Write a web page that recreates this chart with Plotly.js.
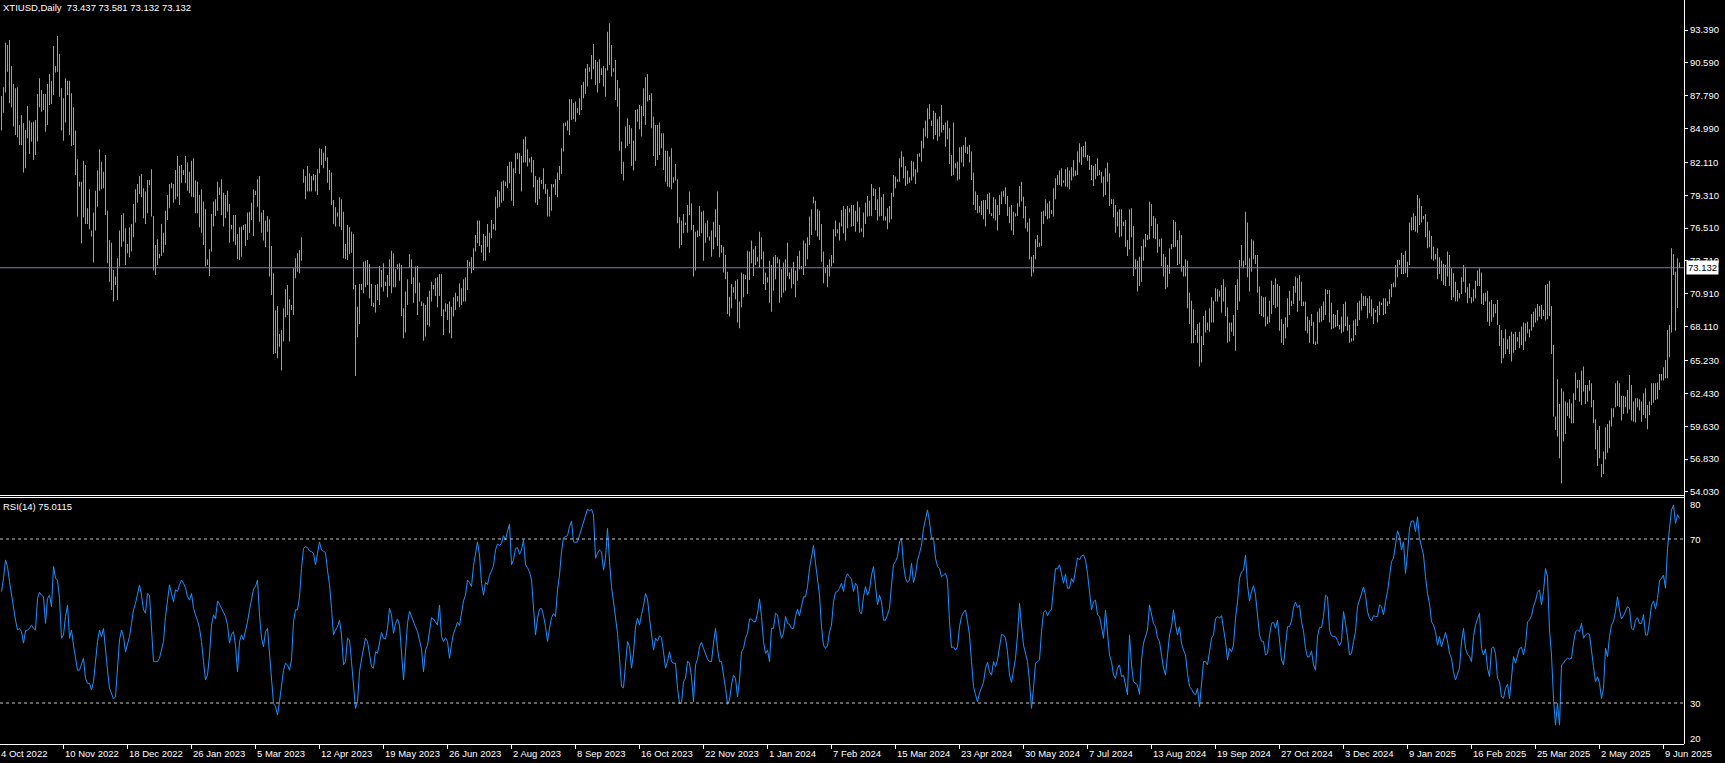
<!DOCTYPE html>
<html><head><meta charset="utf-8">
<script src="https://cdn.plot.ly/plotly-3.0.1.min.js"></script>
<style>html,body{margin:0;padding:0;background:#000;overflow:hidden}#chart{width:1725px;height:763px}</style>
</head><body><div id="chart"></div>
<script>
const symbolTitle = "XTIUSD,Daily";
const lastOHLC = [73.437, 73.581, 73.132, 73.132];
const lastClose = 73.132;
const rsiTitle = "RSI(14)";
const rsiLast = 75.0115;

const barHigh = [87.77,88.51,92.31,92.11,92.54,90.32,88.79,88.42,88.51,85.30,
86.15,85.44,84.87,86.92,85.67,85.50,85.58,85.73,87.94,89.27,
88.28,87.94,87.94,88.79,89.64,89.07,92.03,90.32,92.88,91.35,
88.42,87.57,89.27,89.07,89.07,88.00,86.80,84.82,82.37,80.47,
80.47,82.26,81.89,78.20,79.82,76.30,77.83,79.70,81.41,83.22,
82.17,81.32,82.74,78.00,75.50,75.27,72.95,72.38,73.94,76.30,
77.63,77.77,76.50,75.16,76.58,76.86,78.57,79.82,80.27,80.95,
81.12,79.90,79.62,80.61,80.61,81.52,77.54,75.07,75.56,74.31,
76.86,76.12,78.00,79.33,80.27,80.38,80.27,81.47,82.66,81.80,
81.89,81.47,82.66,82.09,81.32,82.26,82.46,80.56,80.47,79.33,
79.82,78.77,78.11,73.85,74.70,77.71,78.77,78.97,80.47,79.99,
80.67,79.53,79.33,79.70,78.57,76.78,77.63,77.63,76.01,76.58,
76.64,76.78,76.86,77.83,77.91,78.68,79.82,79.70,80.67,80.95,
77.83,78.06,77.15,77.54,77.26,74.99,72.66,69.48,69.88,67.49,
67.83,69.68,71.30,71.67,70.45,69.96,73.09,73.94,74.37,74.65,
75.73,81.52,80.95,81.80,81.18,80.95,81.12,81.04,81.52,83.31,
83.22,82.94,83.51,82.54,81.47,81.24,78.91,78.28,77.83,79.13,
78.97,77.91,75.16,76.78,76.58,76.21,76.01,71.67,69.82,71.75,
71.75,73.65,73.74,73.80,73.46,71.75,70.16,71.67,71.75,73.28,
72.95,73.51,71.95,72.52,73.85,74.59,74.37,73.00,73.46,73.51,
73.37,69.68,71.10,72.15,74.31,73.85,72.32,73.23,73.28,71.87,
70.25,70.11,69.96,70.67,71.18,71.95,71.67,72.23,72.32,72.60,
72.60,69.59,70.11,70.05,70.25,69.82,70.62,71.01,70.73,71.81,
71.38,72.15,72.32,73.80,73.65,74.02,74.79,75.93,77.15,77.15,
75.07,76.01,75.84,76.86,76.12,77.21,76.86,79.19,79.76,79.62,
80.47,80.56,80.47,81.80,82.17,82.17,81.61,82.89,82.94,82.89,
82.66,84.08,84.31,83.22,82.46,82.60,82.32,80.95,80.61,80.84,
80.61,81.61,80.27,79.82,79.19,80.27,80.27,80.67,81.24,81.80,
83.31,85.44,85.50,85.67,87.48,87.48,87.15,87.29,86.72,87.57,
88.71,88.99,90.13,90.49,90.21,91.26,92.20,90.84,90.69,90.89,
90.13,90.32,90.13,93.25,93.96,92.11,90.13,90.84,89.13,88.42,
83.88,82.17,85.16,85.87,85.30,85.01,83.96,86.58,86.63,87.00,
86.92,88.42,89.36,89.64,87.85,88.00,86.01,85.30,85.30,85.50,
84.59,84.59,83.11,83.11,82.60,83.31,80.84,81.97,80.67,77.43,
77.15,77.71,76.98,78.48,79.62,78.63,76.78,76.21,76.30,78.40,
77.91,78.00,76.92,77.15,75.79,76.30,77.06,78.11,79.62,76.78,
75.07,74.93,74.22,72.80,70.67,71.75,71.47,72.03,72.15,70.25,
72.72,72.60,72.52,74.59,74.51,75.45,74.70,74.99,74.02,76.21,
75.73,74.51,72.72,72.32,73.74,73.37,74.08,74.22,74.02,73.85,
73.00,73.57,73.85,75.27,72.72,73.09,73.65,72.89,74.14,74.59,
73.28,75.45,75.22,75.73,77.49,78.11,79.19,78.85,78.11,78.00,
76.86,74.51,73.09,73.37,73.85,74.22,76.41,77.15,76.41,76.98,
78.06,78.40,78.11,78.40,78.20,78.48,78.48,78.00,78.77,78.28,
76.50,77.83,78.68,79.25,78.85,80.27,79.90,79.82,78.97,79.99,
79.13,79.42,77.49,78.20,78.40,79.53,81.04,80.90,80.67,82.46,
83.03,82.60,81.80,81.41,80.84,82.26,82.17,81.52,82.83,82.89,
83.96,85.01,85.67,86.72,87.09,85.67,86.52,86.35,85.78,86.01,
87.00,85.30,85.50,85.67,85.01,82.74,85.50,82.03,82.17,83.40,
83.45,83.60,84.25,83.45,83.60,83.03,81.24,79.62,79.33,78.40,
78.85,78.91,78.91,79.42,79.53,77.77,79.13,78.97,78.48,79.33,
79.62,79.70,79.99,79.25,78.34,78.48,77.91,77.77,78.63,80.10,
80.47,79.19,78.40,76.98,77.35,74.08,74.22,75.56,75.93,75.27,
77.91,78.00,78.97,78.63,78.85,78.06,79.90,80.75,81.04,81.41,
81.61,80.56,81.52,81.69,81.41,81.69,82.32,81.41,83.03,83.74,
83.45,83.51,83.88,82.74,82.66,81.89,81.80,81.97,82.46,81.47,
81.32,80.90,81.61,82.09,81.18,78.97,78.97,78.48,77.91,78.11,
78.11,77.06,77.21,75.50,78.11,78.20,76.69,73.85,73.74,74.08,
74.99,75.56,76.01,75.93,78.77,78.57,77.54,77.35,76.86,75.56,
75.64,74.31,74.08,73.37,74.79,75.16,77.21,77.06,75.50,76.30,
75.93,73.28,73.85,73.74,71.01,70.33,69.59,67.83,68.34,68.46,
67.32,69.02,69.48,68.46,69.68,70.62,70.33,71.38,71.30,71.18,
71.67,72.15,71.47,69.76,68.46,68.46,69.11,71.67,72.15,73.80,
75.07,73.74,77.91,76.98,73.94,75.56,75.45,74.22,74.22,71.53,
70.73,70.62,70.67,68.97,70.33,72.03,71.67,72.23,71.75,71.58,
68.74,68.34,68.91,70.53,71.18,70.33,71.58,72.38,72.23,72.52,
71.95,70.25,70.25,68.97,68.69,69.20,68.54,66.84,69.39,69.68,
69.88,70.25,71.30,71.24,71.24,70.16,69.20,69.11,69.54,68.26,
68.97,70.05,70.25,68.97,68.26,67.12,68.63,68.74,70.16,70.33,
70.96,70.73,70.73,70.53,70.73,70.45,69.68,69.54,69.88,70.25,
70.16,70.53,70.53,70.25,71.30,71.75,71.87,73.37,73.80,73.80,
74.42,74.22,74.59,73.65,76.98,77.43,77.77,77.54,79.33,79.05,
78.40,77.54,77.71,77.06,76.30,75.84,74.93,74.31,74.79,74.02,
73.74,73.46,73.37,74.51,74.22,73.09,72.66,71.95,71.24,70.96,
72.32,73.37,73.09,71.47,71.81,70.62,71.30,72.03,72.89,73.09,
72.72,70.96,71.01,71.18,70.25,70.39,70.05,70.05,70.39,68.26,
67.83,67.12,67.89,67.04,67.32,67.69,67.49,67.69,67.21,67.69,
68.12,68.46,68.40,68.54,67.89,69.20,69.39,69.68,70.05,69.88,
69.96,69.54,71.67,71.75,72.03,69.88,66.55,60.45,63.63,61.53,
62.86,62.58,61.73,61.64,61.92,61.59,62.44,64.20,63.57,63.57,
64.37,64.71,63.15,63.15,63.57,63.29,61.87,60.22,59.31,59.65,
56.41,57.47,59.54,59.82,60.11,61.16,61.16,63.29,63.52,63.29,
62.21,62.21,62.15,62.72,64.00,63.15,61.73,62.01,62.01,61.92,
61.73,62.44,62.86,61.44,61.73,63.29,63.29,63.29,63.35,64.08,
64.08,64.65,65.28,67.83,68.26,74.79,74.31,72.80,73.94,73.581];

const barLow = [84.82,86.35,88.06,89.84,87.15,86.80,85.16,84.45,84.25,83.60,
83.60,81.24,81.61,84.16,82.83,83.88,82.32,82.74,83.88,86.80,
86.43,86.58,84.73,85.30,87.00,87.09,87.85,89.76,89.84,87.71,
84.82,83.96,85.50,87.85,84.45,83.51,83.60,81.04,77.49,80.05,
75.22,77.43,76.86,76.86,76.41,75.79,73.57,76.30,78.34,79.70,
79.82,79.90,77.63,73.51,71.95,71.24,70.25,71.67,70.39,73.23,
74.93,75.36,73.37,74.37,74.02,74.51,75.73,76.98,78.68,79.42,
79.13,77.35,76.86,77.77,80.19,77.49,72.89,72.52,73.37,73.94,
74.14,74.42,75.07,77.21,78.20,79.90,78.68,78.97,79.19,78.48,
80.38,81.04,80.33,79.70,79.48,79.19,79.13,77.77,77.77,76.58,
76.12,75.07,73.23,73.37,72.43,74.51,76.64,77.54,78.00,79.33,
77.63,76.64,77.35,77.91,75.27,76.41,75.36,75.07,73.85,73.80,
74.08,76.35,74.99,75.50,76.12,77.21,75.84,79.33,78.34,77.06,
76.12,75.45,74.87,76.21,72.38,70.81,65.79,65.85,65.42,66.41,
64.37,66.84,68.91,69.11,66.84,69.54,69.11,72.23,72.80,72.66,
73.74,80.38,78.97,79.62,79.62,79.62,80.56,79.62,79.33,81.18,
81.89,81.61,82.26,80.38,79.76,78.48,76.86,76.64,77.49,76.64,
76.35,73.94,73.85,73.80,74.31,74.42,71.30,63.91,67.21,68.35,
71.24,70.96,71.47,71.67,70.53,69.88,69.76,69.31,70.39,69.96,
71.47,71.10,71.58,70.62,71.58,70.96,71.47,71.47,73.00,72.03,
69.02,67.12,67.61,69.96,73.17,71.75,70.16,70.96,69.11,70.25,
69.88,66.92,67.27,68.26,68.12,70.25,71.30,70.73,69.76,70.73,
69.02,67.41,69.39,68.69,67.55,67.12,68.97,69.54,70.25,69.76,
69.96,70.25,70.25,71.24,73.23,72.66,72.95,74.51,75.22,74.99,
74.42,73.74,73.74,74.93,74.42,75.64,76.41,76.30,78.20,78.34,
78.68,78.85,80.10,79.90,80.33,78.85,78.40,81.18,82.37,81.12,
79.62,82.09,82.09,81.75,82.09,81.24,79.99,78.68,78.48,78.97,
80.27,79.82,79.42,77.49,77.49,78.00,79.99,79.33,79.13,80.61,
81.12,83.03,85.21,84.82,84.45,85.73,85.78,85.58,86.29,86.15,
86.58,87.57,87.94,88.57,89.84,89.19,90.04,88.71,88.06,88.85,
89.56,88.57,87.71,89.93,90.41,89.42,89.84,87.43,86.86,83.11,
81.12,80.56,83.31,83.51,83.68,81.80,81.41,82.26,85.58,84.93,
84.31,86.06,85.30,87.29,87.43,85.01,82.66,81.80,82.32,82.74,
83.31,81.47,80.47,80.05,79.99,79.82,80.38,80.56,76.92,74.79,
75.07,76.07,76.78,76.12,77.63,76.35,72.38,72.89,75.73,75.84,
76.07,73.74,75.27,75.73,75.45,74.08,74.70,75.73,74.99,74.02,
74.42,72.72,72.15,69.20,68.97,69.68,71.01,70.45,68.46,67.97,
69.76,70.62,72.15,70.90,72.09,73.51,72.43,73.37,73.65,73.17,
73.85,71.75,71.24,71.87,70.16,69.39,71.18,72.15,73.51,70.16,
70.62,71.01,71.18,72.43,72.15,71.38,71.75,70.62,72.03,73.00,
73.00,72.52,73.28,73.85,75.07,75.93,78.63,76.30,75.79,75.50,
73.65,71.81,72.66,71.47,72.38,73.23,73.51,75.79,76.07,75.45,
76.64,76.07,75.45,76.50,77.83,76.64,76.69,76.21,77.06,76.12,
76.21,75.73,76.86,77.49,77.54,77.54,79.25,78.06,77.15,77.49,
77.54,77.15,77.15,76.41,76.98,77.26,79.19,79.90,80.47,80.47,
81.69,80.75,80.10,80.27,80.38,80.56,80.90,80.27,81.24,82.60,
82.17,83.31,84.31,84.16,85.78,85.21,84.08,84.45,83.96,84.31,
84.65,84.87,83.45,84.08,81.97,80.95,81.04,81.61,80.56,80.67,
82.09,81.75,82.94,82.83,82.09,80.61,78.48,78.06,77.77,77.83,
77.63,77.26,76.64,78.11,77.71,77.54,77.35,77.15,76.30,77.63,
78.57,79.19,78.57,77.54,76.92,76.30,75.93,77.49,77.54,78.34,
78.77,77.35,76.50,76.21,73.85,72.38,72.72,73.85,74.87,74.93,
74.99,76.86,77.54,77.26,77.35,77.71,77.49,78.97,80.19,80.19,
80.05,80.38,80.05,79.99,79.82,80.56,80.90,80.95,81.04,82.09,
81.89,82.54,82.54,82.26,81.47,80.61,80.10,80.67,80.95,81.04,
80.38,79.19,79.33,80.47,78.40,78.57,77.43,76.12,76.64,75.73,
75.79,76.69,74.93,74.14,74.70,75.73,72.43,73.00,71.10,71.58,
71.95,73.74,74.87,75.50,75.56,76.69,75.64,75.56,74.42,74.93,
73.28,72.38,71.30,71.47,72.60,74.70,74.87,74.93,73.37,73.46,
72.80,72.38,72.38,69.68,68.35,66.70,66.70,67.41,66.75,64.71,
65.05,66.55,67.61,67.83,67.69,68.46,68.46,70.25,70.25,70.67,
69.31,70.25,69.02,66.75,66.84,67.69,67.32,66.07,69.54,70.25,
73.23,73.09,73.37,72.32,71.10,72.80,73.85,73.46,71.01,69.20,
69.02,68.91,68.12,68.35,68.46,69.20,69.96,69.68,69.82,67.77,
66.75,66.55,67.12,68.06,69.11,69.88,70.05,71.01,69.39,70.33,
69.88,69.88,67.77,67.55,66.75,68.17,66.64,66.55,66.64,68.46,
68.54,68.69,69.11,70.90,68.46,67.89,67.97,68.06,68.17,67.89,
67.55,67.69,68.17,67.77,66.75,66.84,66.92,67.41,68.17,68.69,
69.48,69.88,69.88,68.83,69.25,68.97,68.35,69.31,68.46,69.11,
69.96,69.11,69.20,69.88,70.05,70.62,71.47,71.47,72.32,73.37,
72.60,72.60,72.66,72.32,73.37,76.30,76.35,76.21,76.12,76.78,
76.98,77.26,75.73,74.79,74.87,73.85,73.74,73.85,72.15,72.60,
72.03,71.67,71.58,72.38,71.58,70.39,70.62,70.25,70.25,70.53,
70.90,71.95,71.01,70.11,70.53,70.11,70.25,70.53,71.58,71.58,
70.05,69.96,70.25,68.54,68.17,68.54,68.91,69.25,68.26,66.47,
64.99,65.42,65.79,66.18,65.79,65.14,65.90,66.13,66.84,66.27,
66.55,66.13,66.84,67.55,67.21,67.77,68.06,68.46,68.63,68.97,
68.74,69.02,68.63,68.74,69.02,65.79,60.45,59.31,58.75,56.90,
54.77,58.32,58.97,60.50,60.30,59.88,59.88,61.87,62.86,61.73,
61.44,62.58,61.53,61.73,62.66,61.24,59.88,57.67,56.25,56.90,
55.28,55.57,56.81,57.38,57.75,59.60,60.39,61.24,61.36,61.24,
60.11,60.67,61.24,60.73,61.07,60.11,60.02,59.94,61.24,60.96,
60.02,60.59,60.30,59.37,60.59,61.44,61.64,61.87,61.92,62.72,
63.52,63.52,63.71,63.71,65.50,67.61,72.52,67.77,69.71,73.132];

const rsi14 = [57.2,60.4,64.9,63.3,59.6,56.3,52.3,50.2,47.8,48.2,
47.4,44.6,47.6,47.8,48.2,49.0,48.2,47.8,55.5,57.0,
56.3,55.9,49.4,55.5,56.3,53.5,63.3,60.4,60.0,55.5,
45.8,46.6,51.1,53.9,45.8,47.8,44.1,40.9,38.0,38.0,
39.3,40.9,36.0,34.8,34.8,33.2,35.2,40.1,45.0,47.8,
46.2,48.2,42.5,38.0,33.6,32.0,31.0,31.5,37.6,45.4,
47.8,46.2,42.5,44.6,46.2,49.4,52.7,54.3,56.7,58.8,
56.3,52.7,51.9,56.7,56.3,48.2,40.1,40.1,40.1,40.9,
42.7,45.0,51.1,55.1,58.8,56.7,54.7,57.6,57.2,58.8,
60.0,59.2,58.1,55.9,55.1,56.7,53.1,51.5,50.2,48.2,
45.0,40.1,35.6,36.8,41.7,49.0,51.5,50.5,54.9,54.1,
53.1,52.1,51.1,49.0,44.6,46.7,47.4,44.1,37.6,45.0,
46.6,45.4,47.4,49.8,52.7,55.5,57.8,58.4,60.0,51.5,
45.8,43.7,47.4,48.2,42.5,36.8,29.9,29.1,27.1,30.3,
34.4,38.0,39.7,39.3,38.0,40.5,49.8,52.7,52.7,55.9,
62.8,67.7,68.1,67.9,67.1,66.9,66.5,63.7,66.5,69.3,
67.3,66.9,66.7,62.4,58.9,53.1,46.6,47.8,48.6,50.2,
46.6,39.3,40.1,45.8,45.4,40.1,35.2,28.7,30.3,37.6,
40.7,43.3,45.8,45.0,41.7,38.9,38.5,42.5,42.1,45.0,
47.2,45.8,45.6,48.2,53.1,51.5,47.0,49.4,50.5,49.0,
41.7,35.6,42.5,49.4,52.4,51.1,49.4,48.6,47.4,45.0,
43.2,37.6,42.9,44.1,48.2,50.8,50.5,49.7,49.0,53.9,
46.2,45.0,45.9,45.0,40.9,44.3,47.0,48.2,49.7,48.9,
51.5,54.9,56.3,60.0,59.4,58.4,63.5,66.9,69.3,66.1,
59.2,56.3,59.4,58.9,61.1,62.2,63.5,67.3,68.8,68.4,
68.9,70.8,69.8,72.0,73.6,63.7,64.9,67.7,67.9,66.3,
67.3,69.8,63.7,63.0,62.0,60.0,53.9,46.6,50.7,52.9,
53.1,51.3,48.6,45.0,48.2,50.8,51.8,51.1,57.6,61.2,
66.9,70.3,70.6,70.8,73.0,74.4,69.3,69.2,69.3,71.0,
72.6,73.8,75.9,77.3,76.8,77.3,75.9,65.3,66.5,67.3,
66.9,62.4,65.3,72.6,64.5,58.4,54.7,50.7,47.0,40.9,
34.0,33.7,39.7,45.0,43.7,38.5,42.1,48.6,50.7,49.0,
51.6,53.7,56.7,55.4,50.7,46.2,42.9,45.8,45.1,46.4,
45.9,42.5,38.5,40.1,42.5,40.1,39.7,39.7,33.6,29.9,
29.9,35.2,36.0,40.2,39.7,36.4,30.3,39.3,40.7,43.7,
44.8,43.3,41.7,40.7,40.1,40.1,44.6,48.2,43.3,40.1,
40.1,37.2,33.6,29.7,30.7,34.4,36.8,36.0,31.5,35.6,
42.5,43.3,45.8,47.0,50.5,50.5,49.8,49.8,51.9,55.4,
51.1,45.0,42.1,42.9,40.1,48.2,48.2,51.9,51.5,48.2,
45.8,47.0,51.1,49.4,49.2,48.2,48.2,51.1,52.9,51.3,
53.5,55.9,55.9,58.4,62.8,65.7,68.4,64.1,60.4,56.3,
48.6,44.1,43.3,44.0,47.4,49.0,54.7,57.0,57.2,58.0,
59.2,57.2,60.4,61.5,60.8,60.2,57.2,59.2,58.4,52.3,
51.7,55.9,58.4,56.3,57.6,61.2,63.3,58.0,53.9,56.3,
54.7,50.2,50.2,51.5,53.1,58.8,63.8,64.5,65.7,69.3,
70.2,63.7,60.4,59.4,60.0,64.1,59.4,61.2,64.9,66.5,
68.5,72.6,74.6,77.1,74.2,70.2,70.3,65.3,63.3,62.8,
60.8,61.2,61.6,60.0,49.8,43.5,43.7,42.9,43.7,48.6,
51.1,52.1,52.7,49.8,46.6,40.1,34.0,32.0,30.3,32.4,
33.6,35.0,38.5,39.9,37.6,36.8,40.1,38.9,40.5,43.7,
46.7,46.6,45.8,42.5,36.8,35.0,38.0,40.9,46.6,54.3,
49.0,44.1,42.1,40.1,35.2,28.7,33.6,39.7,40.1,40.5,
47.4,52.1,52.6,51.3,52.3,52.9,58.0,62.8,62.7,63.7,
61.5,59.2,61.4,58.0,58.0,60.4,59.4,62.7,65.4,64.9,
65.9,66.1,64.9,61.6,56.3,52.7,54.7,55.1,51.5,51.1,
48.6,45.8,52.7,47.4,41.7,40.1,36.8,36.0,38.5,39.3,
36.4,36.8,34.4,32.0,46.6,39.3,35.2,34.8,34.4,32.1,
40.5,44.6,46.2,47.8,53.9,51.9,49.4,48.6,45.9,45.0,
41.7,38.5,36.8,42.1,46.6,48.6,52.7,49.0,46.6,48.6,
44.6,42.9,41.7,37.2,34.0,33.4,32.4,32.0,33.6,29.1,
35.2,40.1,40.1,39.3,42.5,45.8,46.6,50.5,51.1,50.7,
51.3,48.2,45.0,40.5,43.3,42.5,44.1,50.7,54.7,60.4,
62.0,62.4,66.1,58.8,54.9,57.2,58.6,56.3,51.9,46.6,
45.1,45.0,41.7,42.1,46.6,49.4,49.7,48.2,50.2,45.0,
40.5,39.3,43.3,48.6,48.6,50.0,53.3,54.6,53.3,53.9,
49.8,47.6,43.3,41.2,41.3,42.7,39.3,38.0,46.2,48.4,
48.4,51.1,56.3,55.9,47.8,46.4,46.2,46.2,45.2,44.0,
45.0,52.3,49.4,46.2,41.7,42.1,45.0,47.4,53.5,55.1,
57.2,58.3,56.3,52.3,50.7,50.0,51.3,51.1,51.1,53.9,
53.5,51.5,54.7,57.2,60.8,64.5,65.3,68.9,72.0,70.6,
67.3,69.3,61.6,66.5,72.6,74.4,74.4,71.8,75.4,70.2,
67.7,66.1,60.8,56.7,54.3,49.8,49.0,47.4,44.1,46.2,
43.7,45.4,47.2,45.1,42.1,40.9,37.6,35.6,37.2,38.5,
45.0,48.2,43.3,41.9,41.3,40.1,46.2,49.0,50.5,51.9,
43.3,41.7,43.2,38.5,36.4,43.3,43.7,42.1,36.0,35.2,
31.5,31.1,33.6,34.6,31.1,36.0,41.3,39.7,41.3,43.3,
43.6,41.7,44.1,49.8,50.2,51.3,53.5,54.9,57.0,57.6,
53.9,57.2,62.8,60.8,47.8,41.7,31.1,24.6,29.9,24.6,
39.3,39.7,40.5,40.9,40.7,40.9,44.6,47.4,47.8,47.4,
49.4,45.8,46.6,47.0,46.7,43.3,38.9,35.2,36.4,34.8,
31.1,33.6,43.3,41.3,46.2,49.0,50.0,52.3,55.9,52.7,
50.5,51.3,52.3,53.5,53.1,48.2,47.8,50.2,50.8,49.4,
49.4,51.6,46.6,46.6,49.8,53.9,54.9,52.9,55.5,59.8,
60.4,61.2,58.0,67.7,72.6,77.1,78.3,73.8,75.9,75.0115];

const dateLabels = ["4 Oct 2022","10 Nov 2022","18 Dec 2022","26 Jan 2023","5 Mar 2023","12 Apr 2023","19 May 2023","26 Jun 2023","2 Aug 2023","8 Sep 2023","16 Oct 2023","22 Nov 2023","1 Jan 2024","7 Feb 2024","15 Mar 2024","23 Apr 2024","30 May 2024","7 Jul 2024","13 Aug 2024","19 Sep 2024","27 Oct 2024","3 Dec 2024","9 Jan 2025","16 Feb 2025","25 Mar 2025","2 May 2025","9 Jun 2025"];
const dateIdx = [-1,31,63,95,127,159,191,223,255,287,319,351,383,415,447,479,511,543,575,607,639,671,703,735,767,799,831];
const priceTicks = [93.39,90.59,87.79,84.99,82.11,79.31,76.51,73.71,70.91,68.11,65.23,62.43,59.63,56.83,54.03];
const rsiLevels = [70, 30];
const rsiScaleLabels = [80, 70, 30, 20];

const FONT = "'Liberation Sans', Arial, sans-serif";
const FS = 9.5;
const X_MIN = -0.75, X_MAX = 841.25;
const idx = barHigh.map((_, i) => i);

const traces = [
  {type:'bar', x: idx, base: barLow, y: barHigh.map((h, i) => h - barLow[i]), width: 0.4,
   marker:{color:'#2CF02C', line:{width:0}}, xaxis:'x', yaxis:'y', hoverinfo:'skip'},
  {type:'scatter', mode:'lines', x: rsi14.map((_, i) => i), y: rsi14,
   line:{color:'#1E90FF', width:1}, xaxis:'x', yaxis:'y2', hoverinfo:'skip'}
];

const PH = 744; // plot-area height in px (used for paper fractions)
const shapes = [
  {type:'line', xref:'paper', x0:0, x1:1, yref:'y', y0:lastClose, y1:lastClose, line:{color:'#778899', width:1}},
  {type:'line', xref:'paper', yref:'paper', x0:0, x1:1, ysizemode:'pixel', yanchor:250/PH, y0:-1.5, y1:-1.5, line:{color:'#ffffff', width:1}},
  {type:'line', xref:'paper', yref:'paper', x0:0, x1:1, ysizemode:'pixel', yanchor:250/PH, y0:-3.5, y1:-3.5, line:{color:'#ffffff', width:1}},
  {type:'line', xref:'paper', yref:'paper', xsizemode:'pixel', xanchor:1, x0:0.5, x1:0.5, y0:0, y1:1, line:{color:'#ffffff', width:1}}
];
rsiLevels.forEach(lv => shapes.push({type:'line', xref:'paper', x0:0, x1:1, yref:'y2', y0:lv, y1:lv,
  line:{color:'#C8C8C8', width:1, dash:'3px,3px'}}));

const nb = '\u00a0';
const annotations = [
  {xref:'paper', yref:'paper', x:0, y:1, xanchor:'left', yanchor:'top', xshift:1, yshift:0, showarrow:false,
   text: symbolTitle + nb + nb + lastOHLC.map(v => v.toFixed(3)).join(nb), font:{color:'#ffffff', size:FS, family:FONT}},
  {xref:'paper', yref:'paper', x:0, y:246/PH, xanchor:'left', yanchor:'top', xshift:1, yshift:-1, showarrow:false,
   text: rsiTitle + nb + rsiLast.toFixed(4), font:{color:'#ffffff', size:FS, family:FONT}},
  {xref:'paper', yref:'y', x:1, y:lastClose, xanchor:'left', yanchor:'middle', xshift:2, showarrow:false,
   text: lastClose.toFixed(3), bgcolor:'#ffffff', borderpad:1, font:{color:'#000000', size:FS, family:FONT}}
];
rsiScaleLabels.forEach(v => annotations.push({xref:'paper', yref:'y2', x:1, y:v, xanchor:'left', yanchor:'middle',
  xshift:4, yshift: v === 80 ? -6 : (v === 20 ? 6 : 0), showarrow:false, text:String(v),
  font:{color:'#ffffff', size:FS, family:FONT}}));
// the first date tick lies just left of the visible range; clamp so its label is still drawn
dateLabels.forEach((t, i) => annotations.push({xref:'x', yref:'paper', x:Math.max(dateIdx[i], X_MIN + 0.01), y:0,
  xanchor:'left', yanchor:'top', xshift:-1, yshift:-2, showarrow:false, text:t,
  font:{color:'#ffffff', size:FS, family:FONT}}));

const layout = {
  width:1725, height:763, paper_bgcolor:'#000000', plot_bgcolor:'#000000',
  margin:{l:0, r:41, t:0, b:19, pad:0}, showlegend:false, hovermode:false, dragmode:false,
  xaxis:{range:[X_MIN, X_MAX], anchor:'y2', showgrid:false, zeroline:false, showline:true, linecolor:'#ffffff', linewidth:1,
         ticks:'outside', tickvals:dateIdx, ticklen:4, tickcolor:'#ffffff', showticklabels:false, fixedrange:true},
  yaxis:{domain:[250/PH, 1], range:[53.856, 95.946], side:'right', anchor:'x', showgrid:false, zeroline:false, showline:false,
         ticks:'outside', ticklen:3, tickcolor:'#ffffff', tickvals:priceTicks, ticktext:priceTicks.map(v => v.toFixed(3)),
         tickfont:{color:'#ffffff', size:FS, family:FONT}, fixedrange:true},
  yaxis2:{domain:[0, 246/PH], range:[20, 80], side:'right', anchor:'x', showgrid:false, zeroline:false, showline:false,
          ticks:'', showticklabels:false, fixedrange:true},
  shapes: shapes, annotations: annotations
};

Plotly.newPlot('chart', traces, layout, {displayModeBar:false, responsive:false});
</script>
</body></html>
